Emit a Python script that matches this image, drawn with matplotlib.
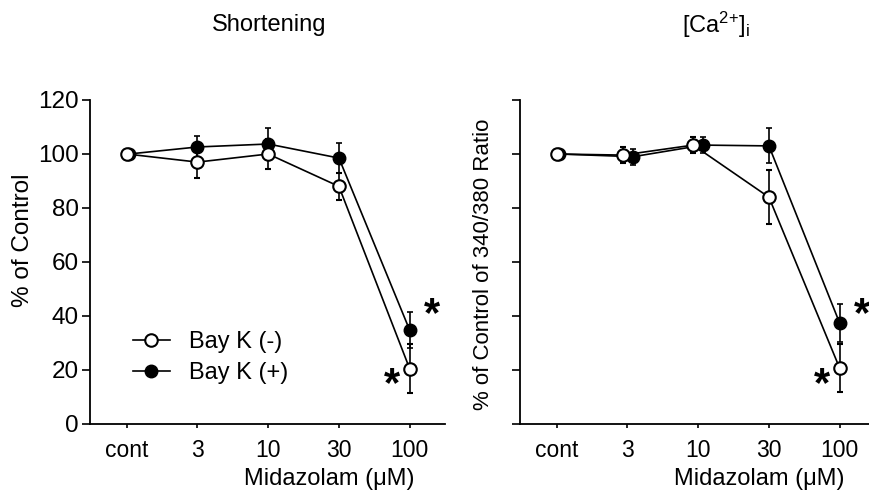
import matplotlib
matplotlib.use("Agg")
import matplotlib.pyplot as plt
from matplotlib.lines import Line2D
import numpy as np

plt.rcParams['font.family'] = ['Liberation Sans', 'DejaVu Sans']
plt.rcParams['mathtext.fontset'] = 'custom'
plt.rcParams['mathtext.rm'] = 'Liberation Sans'
plt.rcParams['mathtext.it'] = 'Liberation Sans'
plt.rcParams['mathtext.default'] = 'regular'

# data
doses = ["cont", "3", "10", "30", "100"]

short_neg = [100, 97, 100, 88, 20.5]
short_neg_err = [0, 6, 5.5, 5, 9]
short_pos = [100, 102.6, 103.7, 98.5, 34.8]
short_pos_err = [0, 4, 6, 5.5, 6.5]

ca_neg = [100, 99.6, 103.3, 84, 20.7]
ca_neg_err = [0, 3, 3, 10, 9]
ca_pos = [100, 99, 103.3, 103, 37.4]
ca_pos_err = [0, 3, 3, 6.5, 7]

# small horizontal dodge so overlapping points stay visible
short_dodge_neg = [0, 0, 0, 0, 0]
short_dodge_pos = [0.03, 0, 0, 0, 0]
ca_dodge_neg = [0, -0.07, -0.07, 0, 0]
ca_dodge_pos = [0.03, 0.08, 0.07, 0, 0]

# significance stars (x index, y value)
star_x = [3.75, 4.31]
star_y = [17, 43]

W, H = 870, 497
fig = plt.figure(figsize=(W / 100, H / 100), dpi=100)


def px_axes(x0, x1, y0, y1):
    return fig.add_axes([x0 / W, 1 - y1 / H, (x1 - x0) / W, (y1 - y0) / H])


def draw_panel(ax, neg, neg_err, pos, pos_err, dn, dp, show_labels):
    x = np.arange(len(doses))
    ax.errorbar(x + np.array(dp), pos, yerr=pos_err, fmt='-o', color='black',
                mfc='black', mec='black', ms=9, lw=1.2, elinewidth=1.2,
                capsize=2.5, capthick=1.2, zorder=2)
    ax.errorbar(x + np.array(dn), neg, yerr=neg_err, fmt='-o', color='black',
                mfc='white', mec='black', mew=1.5, ms=9, lw=1.2, elinewidth=1.2,
                capsize=2.5, capthick=1.2, zorder=3)
    for sx, sy in zip(star_x, star_y):
        ax.annotate('*', (sx, sy), xytext=(0, -5), textcoords='offset points',
                    fontsize=30, fontweight='bold', ha='center', va='center',
                    annotation_clip=False)
    ax.set_xlim(-0.52, 4.5)
    ax.set_ylim(0, 120)
    ax.set_xticks(x)
    ax.set_xticklabels(doses, fontsize=16.5)
    ax.set_yticks(np.arange(0, 121, 20))
    if not show_labels:
        ax.set_yticklabels([])
    ax.tick_params(axis='y', direction='out', length=6, width=1.2, labelsize=17.5, pad=2)
    ax.tick_params(axis='x', direction='out', length=3, width=1.2, pad=8)
    for s in ['top', 'right']:
        ax.spines[s].set_visible(False)
    for s in ['left', 'bottom']:
        ax.spines[s].set_linewidth(1.3)


ax1 = px_axes(90, 445, 100, 424)
draw_panel(ax1, short_neg, short_neg_err, short_pos, short_pos_err,
           short_dodge_neg, short_dodge_pos, True)
ax2 = px_axes(520, 875, 100, 424)
draw_panel(ax2, ca_neg, ca_neg_err, ca_pos, ca_pos_err,
           ca_dodge_neg, ca_dodge_pos, False)

handles = [
    Line2D([], [], color='black', lw=1.2, marker='o', ms=9, mfc='white', mew=1.5),
    Line2D([], [], color='black', lw=1.2, marker='o', ms=9, mfc='black'),
]
ax1.legend(handles, ['Bay K (-)', 'Bay K (+)'], frameon=False, fontsize=17,
           loc='center left', bbox_to_anchor=(0.06, 0.205),
           handlelength=1.6, handletextpad=0.8, labelspacing=0.4)

fig.text(269 / W, 1 - 25 / H, 'Shortening', fontsize=17, ha='center', va='center')
fig.text(716 / W, 1 - 25 / H, r'[Ca$^{2{+}}$]$_{i}$', fontsize=17, ha='center', va='center')
fig.text(329 / W, 1 - 479 / H, 'Midazolam (μM)', fontsize=17, ha='center', va='center')
fig.text(759 / W, 1 - 479 / H, 'Midazolam (μM)', fontsize=17, ha='center', va='center')
fig.text(23 / W, 1 - 240 / H, '% of Control', fontsize=17.5, rotation=90,
         ha='center', va='center')
fig.text(484 / W, 1 - 264 / H, '% of Control of 340/380 Ratio', fontsize=16,
         rotation=90, ha='center', va='center')

fig.savefig('out.png', dpi=100)
